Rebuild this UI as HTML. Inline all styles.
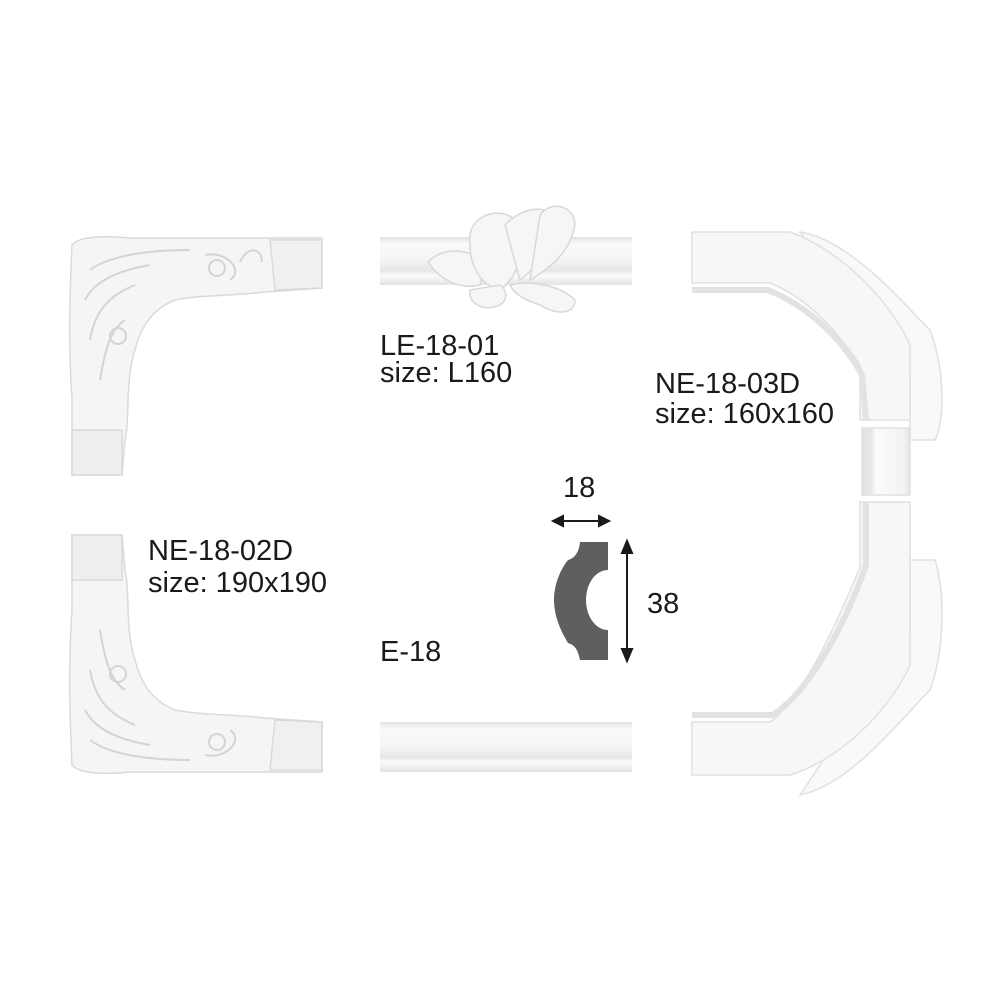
<!DOCTYPE html>
<html><head><meta charset="utf-8"><style>
html,body{margin:0;padding:0;background:#fff;}
svg{display:block}
text{font-family:"Liberation Sans",Arial,sans-serif;fill:#1a1a1a;font-size:29px}
</style></head><body>
<svg width="1000" height="1000" viewBox="0 0 1000 1000">
<defs>
<linearGradient id="rh" x1="0" y1="0" x2="0" y2="1">
<stop offset="0" stop-color="#e4e4e4"/><stop offset="0.15" stop-color="#fafafa"/><stop offset="0.5" stop-color="#f4f4f4"/><stop offset="0.7" stop-color="#e6e6e6"/><stop offset="0.8" stop-color="#fbfbfb"/><stop offset="1" stop-color="#e2e2e2"/>
</linearGradient>
<linearGradient id="rv" x1="0" y1="0" x2="1" y2="0">
<stop offset="0" stop-color="#e2e2e2"/><stop offset="0.2" stop-color="#e8e8e8"/><stop offset="0.3" stop-color="#fbfbfb"/><stop offset="0.85" stop-color="#f3f3f3"/><stop offset="1" stop-color="#e4e4e4"/>
</linearGradient>
</defs>

<rect x="380" y="237" width="252" height="48" fill="url(#rh)"/>
<g fill="#f6f6f6" stroke="#d8d8d8" stroke-width="1.5">
<path d="M428 262 C445 245 470 250 485 262 L480 285 C460 290 440 280 428 262Z"/>
<path d="M470 245 C465 215 500 205 515 220 C525 250 520 275 500 290 C480 285 470 265 470 245Z"/>
<path d="M505 225 C520 208 545 205 550 215 C555 240 540 265 520 280Z"/>
<path d="M540 215 C550 200 575 205 575 225 C570 250 555 265 530 280Z"/>
<path d="M470 290 C468 305 485 312 500 305 C510 298 505 288 500 285Z"/>
<path d="M510 285 C530 280 560 285 575 300 C575 315 555 315 540 305 C525 300 515 295 510 285Z"/>
</g>

<rect x="380" y="722" width="252" height="50" fill="url(#rh)"/>

<g fill="#f5f5f5" stroke="#dadada" stroke-width="1.5">
<path d="M72 245 C80 235 110 236 130 238 L322 238 L322 288 L265 292 C230 296 200 295 175 300 C150 310 140 330 135 350 C125 380 130 420 125 440 L122 475 L72 475 L72 400 C68 340 70 290 72 245Z"/>
<path d="M270 240 L322 240 L322 288 L275 290Z" fill="#f0f0f0"/>
<path d="M72 430 L122 430 L122 475 L72 475Z" fill="#efefef"/>
</g>
<g fill="none" stroke="#d4d4d4" stroke-width="2">
<path d="M90 270 C110 255 150 250 190 250"/>
<path d="M85 300 C95 280 120 270 150 265"/>
<path d="M90 340 C95 310 110 295 135 285"/>
<path d="M100 380 C105 350 110 330 125 320"/>
<circle cx="118" cy="336" r="8"/><circle cx="217" cy="268" r="8"/>
<path d="M205 255 C225 250 245 270 230 280"/>
<path d="M240 262 C248 245 262 248 262 262"/>
</g>

<g transform="translate(0,1010) scale(1,-1)">
<g fill="#f5f5f5" stroke="#dadada" stroke-width="1.5">
<path d="M72 245 C80 235 110 236 130 238 L322 238 L322 288 L265 292 C230 296 200 295 175 300 C150 310 140 330 135 350 C125 380 130 420 125 440 L122 475 L72 475 L72 400 C68 340 70 290 72 245Z"/>
<path d="M270 240 L322 240 L322 288 L275 290Z" fill="#f0f0f0"/>
<path d="M72 430 L122 430 L122 475 L72 475Z" fill="#efefef"/>
</g>
<g fill="none" stroke="#d4d4d4" stroke-width="2">
<path d="M90 270 C110 255 150 250 190 250"/>
<path d="M85 300 C95 280 120 270 150 265"/>
<path d="M90 340 C95 310 110 295 135 285"/>
<path d="M100 380 C105 350 110 330 125 320"/>
<circle cx="118" cy="336" r="8"/><circle cx="217" cy="268" r="8"/>
<path d="M205 255 C225 250 245 270 230 280"/>
</g>
</g>

<g fill="#f7f7f7" stroke="#e0e0e0" stroke-width="1.5">
<path d="M800 232 C850 240 900 300 930 330 C945 370 945 420 935 440 L910 440 L910 380 Z" fill="#f9f9f9"/>
<path d="M692 232 L790 232 C840 250 890 300 910 345 L910 420 L860 420 L860 365 C830 320 800 295 770 283 L692 283Z"/>
<path d="M862 428 L910 428 L910 495 L862 495Z" fill="url(#rv)"/>
<path d="M800 795 C850 785 900 720 930 690 C945 650 945 590 935 560 L910 560 L910 630 Z" fill="#f9f9f9"/>
<path d="M692 775 L790 775 C840 760 890 710 910 665 L910 502 L860 502 L860 567 C830 640 800 700 770 722 L692 722Z"/>
</g>
<g fill="none" stroke="#e2e2e2" stroke-width="6">
<path d="M692 290 L768 290 C805 305 840 335 862 375 L866 420"/>
<path d="M866 502 L866 565 C840 640 800 700 772 715 L692 715"/>
</g>

<path d="M580 542 L608 542 L608 570 A22 30 0 0 0 608 630 L608 660 L580 660 C578 650 575 645 568 643 C560 630 554 615 554 600 C554 585 560 570 568 560 C575 558 579 552 580 542Z" fill="#5f5f5f"/>
<g stroke="#1a1a1a" stroke-width="2" fill="#1a1a1a">
<line x1="557" y1="521" x2="605" y2="521"/>
<path d="M553 521 L563 516 L563 526Z"/><path d="M609 521 L599 516 L599 526Z"/>
<line x1="627" y1="546" x2="627" y2="656"/>
<path d="M627 541 L622 553 L632 553Z"/><path d="M627 661 L622 649 L632 649Z"/>
</g>

<text x="563" y="497">18</text>
<text x="647" y="613">38</text>
<text x="380" y="355">LE-18-01</text>
<text x="380" y="382">size: L160</text>
<text x="655" y="393">NE-18-03D</text>
<text x="655" y="423">size: 160x160</text>
<text x="148" y="560">NE-18-02D</text>
<text x="148" y="592">size: 190x190</text>
<text x="380" y="661">E-18</text>
</svg>
</body></html>
